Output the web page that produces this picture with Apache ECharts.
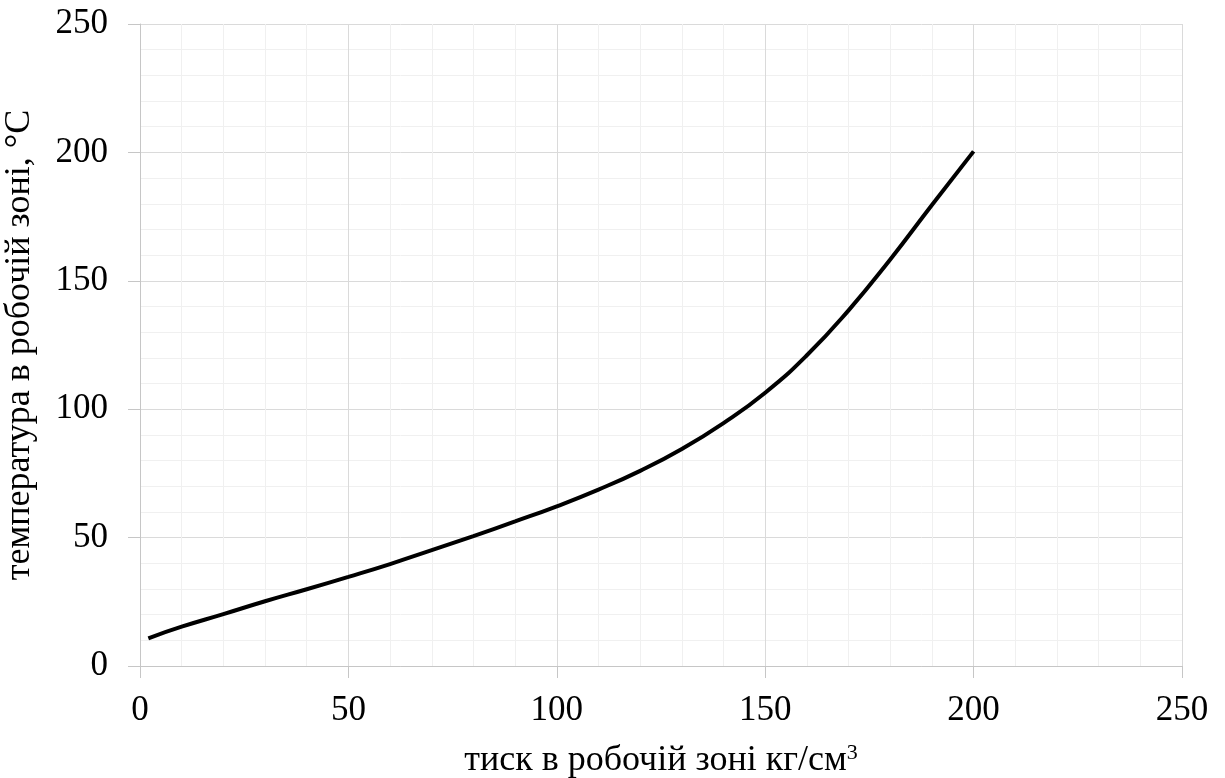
<!DOCTYPE html>
<html>
<head>
<meta charset="utf-8">
<script src="https://cdn.jsdelivr.net/npm/echarts@6/dist/echarts.min.js"></script>
<style>
  html, body { margin: 0; padding: 0; background: #fff; }
  #chart { width: 1225px; height: 778px; }
</style>
</head>
<body>
<div id="chart"></div>
<script>
// pressure values (kg/cm3) and working-zone temperature
const pressure = [2, 10, 20, 30, 40, 50, 60, 70, 80, 90, 100, 110, 120, 130, 140, 150, 160, 170, 180, 190, 200];
const temperature = [10.8, 15.3, 20.2, 25.2, 29.9, 34.7, 39.7, 45.1, 50.6, 56.3, 62.2, 68.7, 76.0, 84.5, 94.6, 106.4, 121.0, 138.5, 158.3, 179.5, 200.4];

const xName = 'тиск в робочій зоні кг/см{sup|3}';
const yName = 'температура в робочій зоні, °C';

const font = 'Liberation Serif';
const axisGrey = '#c6c6c6';

const chart = echarts.init(document.getElementById('chart'));

chart.setOption({
    animation: false,
    grid: { left: 140, right: 43, top: 24, bottom: 112, outerBoundsMode: 'none' },
    xAxis: {
        type: 'value',
        min: 0,
        max: 250,
        interval: 50,
        name: xName,
        nameLocation: 'middle',
        nameGap: 76,
        nameTextStyle: {
            fontFamily: font,
            fontSize: 36,
            color: '#000',
            rich: {
                sup: { fontFamily: font, fontSize: 22, color: '#000', padding: [0, 0, 16, 0] }
            }
        },
        axisLine: { show: true, lineStyle: { color: axisGrey, width: 1 } },
        axisTick: { show: true, inside: false, length: 12, lineStyle: { color: axisGrey } },
        axisLabel: { margin: 27, fontFamily: font, fontSize: 35, color: '#000' },
        splitLine: { show: true, lineStyle: { color: '#dadada', width: 1 } },
        minorSplitLine: { show: true, lineStyle: { color: '#f0f0f0', width: 1 } },
        minorTick: { show: false, splitNumber: 5 }
    },
    yAxis: {
        type: 'value',
        min: 0,
        max: 250,
        interval: 50,
        name: yName,
        nameLocation: 'middle',
        nameGap: 102,
        nameRotate: 90,
        nameTextStyle: { fontFamily: font, fontSize: 36, color: '#000' },
        axisLine: { show: true, lineStyle: { color: axisGrey, width: 1 } },
        axisTick: { show: true, inside: false, length: 12, lineStyle: { color: axisGrey } },
        axisLabel: { margin: 32, fontFamily: font, fontSize: 35, color: '#000' },
        splitLine: { show: true, lineStyle: { color: '#dadada', width: 1 } },
        minorSplitLine: { show: true, lineStyle: { color: '#f0f0f0', width: 1 } },
        minorTick: { show: false, splitNumber: 5 }
    },
    series: [
        {
            type: 'line',
            data: pressure.map((p, i) => [p, temperature[i]]),
            smooth: 0.5,
            showSymbol: false,
            lineStyle: { color: '#000', width: 4 }
        }
    ]
});
</script>
</body>
</html>
